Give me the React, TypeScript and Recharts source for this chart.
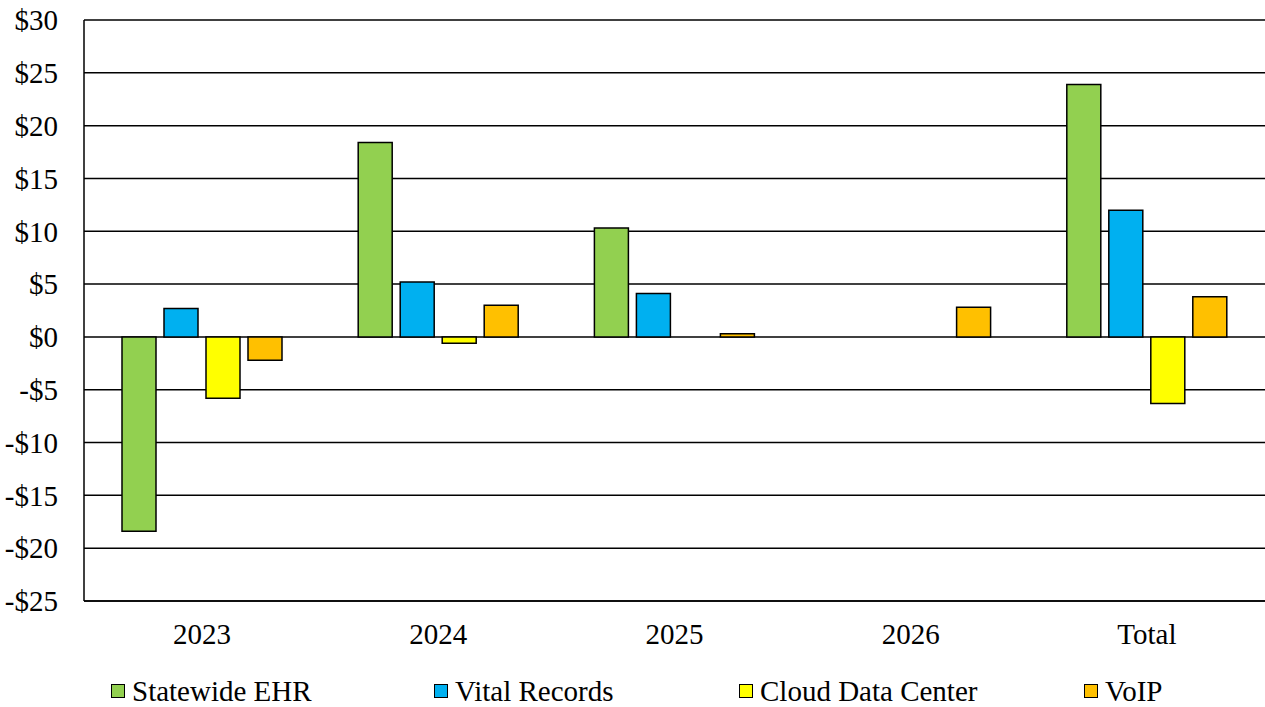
import React from "react";
import { BarChart, Bar, XAxis, YAxis, CartesianGrid, Legend } from "recharts";

const categories = ["2023", "2024", "2025", "2026", "Total"];
const statewideEHR = [-18.4, 18.4, 10.3, null, 23.9];
const vitalRecords = [2.7, 5.2, 4.1, null, 12.0];
const cloudDataCenter = [-5.8, -0.6, null, null, -6.3];
const voip = [-2.2, 3.0, 0.3, 2.8, 3.8];
const yTicks = [-25, -20, -15, -10, -5, 0, 5, 10, 15, 20, 25, 30];

const seriesNames = ["Statewide EHR", "Vital Records", "Cloud Data Center", "VoIP"];
const seriesKeys = ["ehr", "vital", "cloud", "voip"];
const seriesColors = ["#92D050", "#00B0F0", "#FFFF00", "#FFC000"];
const legendLefts = [111, 434, 739, 1084];

const data = categories.map((c, i) => ({
  name: c,
  ehr: statewideEHR[i],
  vital: vitalRecords[i],
  cloud: cloudDataCenter[i],
  voip: voip[i],
}));

const FONT = "'Liberation Serif'";
const FS = 29;

const fmt = (v: number) => (v < 0 ? `-$${Math.abs(v)}` : `$${v}`);

const LegendContent = () => (
  <div style={{ position: "relative", width: 1265, height: 56 }}>
    {seriesNames.map((n, i) => (
      <div
        key={n}
        style={{
          position: "absolute",
          left: legendLefts[i],
          top: 25,
          display: "flex",
          alignItems: "center",
          fontFamily: FONT,
          fontSize: FS,
          color: "#000",
          lineHeight: "30px",
          whiteSpace: "nowrap",
        }}
      >
        <span
          style={{
            display: "inline-block",
            width: 12,
            height: 12,
            background: seriesColors[i],
            border: "1.5px solid #000",
            marginRight: 7,
          }}
        />
        {n}
      </div>
    ))}
  </div>
);

export default function App() {
  return (
    <div
      style={{
        position: "absolute",
        left: 0,
        top: 0,
        width: 1265,
        height: 707,
        background: "#fff",
        fontFamily: FONT,
      }}
    >
      <BarChart
        width={1265}
        height={707}
        data={data}
        margin={{ top: 20, right: 0, bottom: 0, left: 0 }}
        barSize={34}
        barGap={8}
      >
        <CartesianGrid vertical={false} stroke="#000" strokeWidth={1.5} />
        <XAxis
          dataKey="name"
          height={50}
          tickLine={false}
          axisLine={{ stroke: "#000", strokeWidth: 1.5 }}
          tick={{ fill: "#000", fontFamily: "Liberation Serif", fontSize: FS }}
          tickMargin={16}
        />
        <YAxis
          width={84}
          domain={[-25, 30]}
          ticks={yTicks}
          interval={0}
          tickFormatter={fmt}
          tickLine={false}
          axisLine={{ stroke: "#000", strokeWidth: 1.5 }}
          tick={{ fill: "#000", fontFamily: "Liberation Serif", fontSize: FS }}
          tickMargin={20}
        />
        <Legend verticalAlign="bottom" height={56} content={<LegendContent />} />
        {seriesKeys.map((k, i) => (
          <Bar
            key={k}
            dataKey={k}
            name={seriesNames[i]}
            fill={seriesColors[i]}
            stroke="#000"
            strokeWidth={1.5}
            isAnimationActive={false}
          />
        ))}
      </BarChart>
    </div>
  );
}
